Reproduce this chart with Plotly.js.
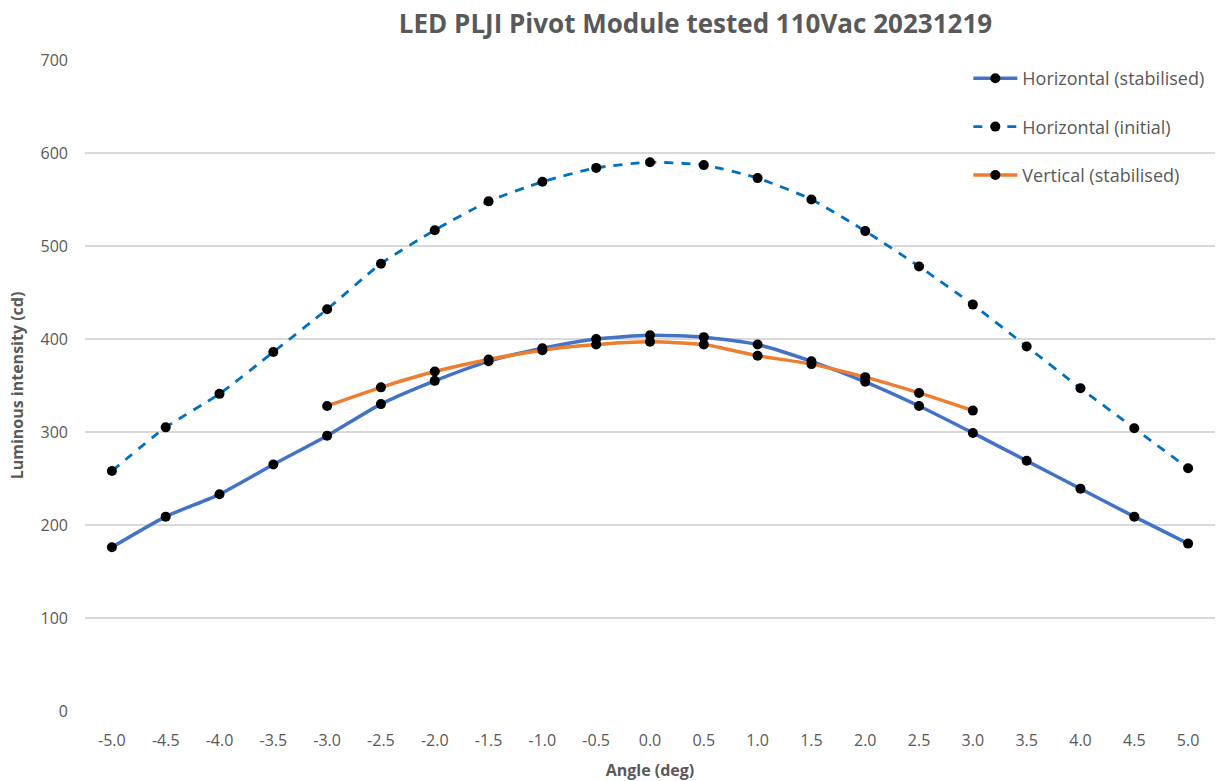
<!DOCTYPE html>
<html>
<head>
<meta charset="utf-8">
<script src="https://cdn.plot.ly/plotly-3.0.1.min.js"></script>
<style>html,body{margin:0;padding:0;background:#fff;}#chart{width:1218px;height:781px;}</style>
</head>
<body>
<div id="chart"></div>
<script>
const angles = [-5.0,-4.5,-4.0,-3.5,-3.0,-2.5,-2.0,-1.5,-1.0,-0.5,0.0,0.5,1.0,1.5,2.0,2.5,3.0,3.5,4.0,4.5,5.0];
const horizStab = [176,209,233,265,296,330,355,376,390,400,404,402,394,376,354,328,299,269,239,209,180];
const horizInit = [258,305,341,386,432,481,517,548,569,584,590,587,573,550,516,478,437,392,347,304,261];
const vertAngles = [-3.0,-2.5,-2.0,-1.5,-1.0,-0.5,0.0,0.5,1.0,1.5,2.0,2.5,3.0];
const vertStab = [328,348,365,378,388,394,397,394,382,373,359,342,323];
const tickVals = angles;
const tickText = angles.map(v => v.toFixed(1));

const FONT = "'Open Sans', sans-serif";
const marker = {color:'#000000', size:10, symbol:'circle'};

const traces = [
  {x: angles, y: horizStab, name: 'Horizontal (stabilised)', mode: 'lines+markers',
   line: {color:'#4472C4', width:3.5, shape:'spline', smoothing:0.6}, marker: marker, legendgroup:'a'},
  {x: angles, y: horizInit, name: 'Horizontal (initial)', mode: 'lines+markers',
   line: {color:'#0070C0', width:2.8, dash:'9px,8px', shape:'spline', smoothing:0.6}, marker: marker, legendgroup:'b'},
  {x: vertAngles, y: vertStab, name: 'Vertical (stabilised)', mode: 'lines+markers',
   line: {color:'#ED7D31', width:3.5, shape:'spline', smoothing:0.6}, marker: marker, legendgroup:'c'}
];

const layout = {
  width: 1218, height: 781,
  margin: {l:85, r:3, t:60, b:70},
  paper_bgcolor:'#ffffff', plot_bgcolor:'#ffffff',
  font: {family: FONT, color:'#595959', size:16},
  title: {text:'<b>LED PLJI Pivot Module tested 110Vac 20231219</b>', xref:'container', x:0.571, xanchor:'center',
          yref:'container', y:0.97, yanchor:'middle', font:{family:FONT, size:26, color:'#595959'}},
  xaxis: {range:[-5.25,5.25], tickvals:tickVals, ticktext:tickText, showgrid:false, zeroline:false,
          showline:false, ticks:'', ticklen:0, tickfont:{size:16, color:'#595959'}, ticklabelstandoff:18,
          title:{text:'<b>Angle (deg)</b>', font:{size:16, color:'#595959'}, standoff:14}},
  yaxis: {range:[0,700], dtick:100, showgrid:true, gridcolor:'#D9D9D9', gridwidth:1.3, zeroline:false,
          showline:false, ticks:'', tickfont:{size:16, color:'#595959'}, ticklabelstandoff:16,
          title:{text:'<b>Luminous intensity (cd)</b>', font:{size:16, color:'#595959'}, standoff:12}},
  legend: {x:0.995, xanchor:'right', y:1.0, yanchor:'top', bgcolor:'rgba(255,255,255,0)',
           font:{size:18, color:'#595959'}, tracegroupgap:22, traceorder:'grouped', itemwidth:44},
  showlegend: true
};

Plotly.newPlot('chart', traces, layout, {displayModeBar:false, staticPlot:true});
</script>
</body>
</html>
